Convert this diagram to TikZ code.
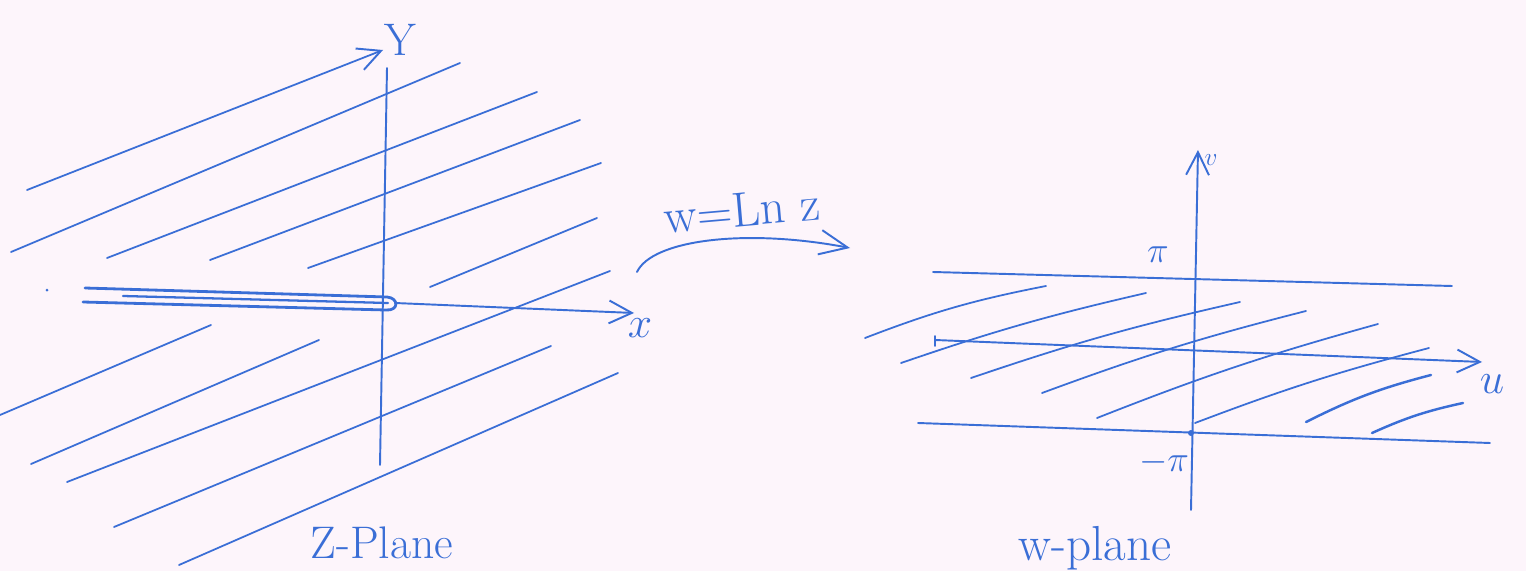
\documentclass[tikz,border=0pt]{standalone}
\usetikzlibrary{arrows.meta}
\definecolor{ink}{RGB}{58,110,214}
\definecolor{paper}{RGB}{253,245,251}
\begin{document}
\begin{tikzpicture}[x=0.02cm,y=-0.02cm,line cap=round,line join=round,
  hatch/.style={draw=ink,line width=1pt},
  axisline/.style={draw=ink,line width=1.1pt},
  cutline/.style={draw=ink,line width=1.6pt},
  tipped/.style={-{Straight Barb[length=13pt,width=13pt,line width=1.1pt]}},
  lbl/.style={text=ink,inner sep=0pt,font=\fontsize{28}{30}\selectfont},
  small/.style={text=ink,inner sep=0pt,font=\fontsize{20}{22}\selectfont}]
\fill[paper] (0,0) rectangle (1526,571);
\useasboundingbox (0,0) rectangle (1526,571);

% ---------- z-plane ----------
\coordinate (ybot) at (380,465);
\coordinate (ytop) at (387,68);
\coordinate (xorig) at (395,303);
\coordinate (xtip) at (634,313);
\draw[axisline] (ybot) -- (ytop);
\draw[axisline,tipped] (xorig) -- (xtip);
\node[lbl,font=\fontsize{26}{28}\selectfont] (ylab) at (400,40) {Y};
\node[lbl,font=\fontsize{24}{26}\selectfont] (xlab) at (640,328) {$x$};

% hatch lines
\draw[hatch,tipped] (27,190) -- (383,50);
\draw[hatch] (11,252) -- (460,63);
\draw[hatch] (107,258) -- (537,92);
\draw[hatch] (210,260) -- (580,120);
\draw[hatch] (308,268) -- (601,163);
\draw[hatch] (430,287) -- (597,218);
\draw[hatch] (0,415) -- (211,325);
\draw[hatch] (31,464) -- (319,340);
\draw[hatch] (67,482) -- (610,271);
\draw[hatch] (114,527) -- (551,346);
\draw[hatch] (179,565) -- (618,373);

% branch cut
\draw[cutline] (85,288) -- (387,297) .. controls (399,298) and (399,311) .. (386,310) -- (83,302);
\draw[hatch,line width=1.3pt] (123,296) -- (388,303);
\fill[ink] (47,290) circle[radius=1.5];

\node[lbl,anchor=base,font=\fontsize{26}{28}\selectfont] (zlab) at (382,558) {Z-Plane};

% ---------- mapping arrow ----------
\coordinate (mapstart) at (637,272);
\coordinate (mapend) at (850,248);
\draw[axisline,-{Straight Barb[length=16pt,width=14pt,line width=1.1pt]}]
  (mapstart) .. controls (652,240) and (745,228) .. (mapend);
\node[lbl,rotate=5] (maplab) at (742,210) {w=Ln z};

% ---------- w-plane ----------
\coordinate (vbot) at (1191,510);
\coordinate (vtop) at (1198,150);
\coordinate (uleft) at (935,340);
\coordinate (utip) at (1482,362);
\coordinate (pil) at (933,272);
\coordinate (pir) at (1452,286);
\coordinate (mpil) at (918,423);
\coordinate (mpir) at (1490,443);
\draw[axisline,tipped] (vbot) -- (vtop);
\draw[axisline,tipped] (uleft) -- (utip);
\draw[axisline] (935,336) -- (935,346);
\draw[axisline] (pil) -- (pir);
\draw[axisline] (mpil) -- (mpir);
\fill[ink] (1191,433) circle[radius=3];
\node[small,font=\fontsize{15}{16}\selectfont] (vlab) at (1211,160) {$v$};
\node[lbl,font=\fontsize{24}{26}\selectfont] (ulab) at (1492,384) {$u$};
\node[small] (pilab) at (1158,255) {$\pi$};
\node[small] (mpilab) at (1164,462) {$-\pi$};

\draw[hatch] (865,338) to[bend left=5] (1046,286);
\draw[hatch] (901,363) to[bend left=3] (1146,293);
\draw[hatch] (971,378) to[bend left=3] (1240,302);
\draw[hatch] (1042,393) to[bend left=3] (1306,311);
\draw[hatch] (1097,418) to[bend left=3] (1378,324);
\draw[hatch] (1195,423) to[bend left=3] (1429,348);
\draw[hatch,line width=1.4pt] (1306,422) to[bend left=6] (1431,375);
\draw[hatch,line width=1.4pt] (1372,433) to[bend left=6] (1463,403);

\node[lbl,anchor=base] (wlab) at (1095,560) {w-plane};
\end{tikzpicture}
\end{document}
